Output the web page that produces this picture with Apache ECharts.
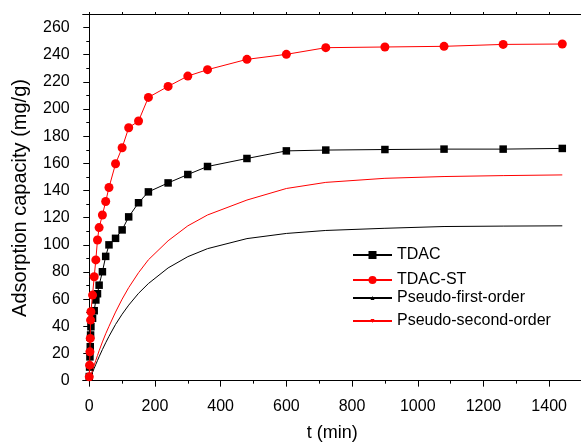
<!DOCTYPE html>
<html>
<head>
<meta charset="utf-8">
<script src="https://cdn.jsdelivr.net/npm/echarts@6/dist/echarts.min.js"></script>
<style>html,body{margin:0;padding:0;background:#fff}#c{width:581px;height:442px}</style>
</head>
<body>
<div id="c"></div>
<script>
const times = [0,1,2,3,4,5,10,15,20,25,30,40,50,60,80,100,120,150,180,240,300,360,480,600,720,900,1080,1260,1440];
const tdac = [3,10,17.5,25,33.6,39.7,45.9,51.5,59.4,64,70.3,80.2,91.5,100,104.8,111,120.6,131,139,145.6,151.8,157.7,163.6,169.2,169.8,170.2,170.5,170.5,171];
const tdacST = [2.8,11.4,21.2,31.1,44.6,50.7,63,76.5,88.9,103.6,112.7,122,131.9,142.2,159.7,171.5,186.2,191.2,208.6,216.7,224.3,229,236.6,240.3,245.2,245.7,246.2,247.6,247.9];
const pfo = [0,0.6,1.2,1.9,2.5,3.1,6.1,9.1,12,14.8,17.6,22.9,27.9,32.6,41.4,48.9,55.6,64.3,71.5,83,91.3,97.2,104.6,108.4,110.6,112.2,113.5,113.8,114];
const pso = [0,0.8,1.6,2.4,3.2,4,7.8,11.5,15,18.5,22,28.5,34.5,40,50.5,60,68.5,79.5,89,103,114,122,133,141.5,146,149,150.3,151,151.5];
const xMajor = [0,200,400,600,800,1000,1200,1400];
const xMinor = [100,300,500,700,900,1100,1300,1500];
const yMajor = [0,20,40,60,80,100,120,140,160,180,200,220,240,260];
const yMinor = [10,30,50,70,90,110,130,150,170,190,210,230,250];
const seriesNames = ['TDAC','TDAC-ST','Pseudo-first-order','Pseudo-second-order'];

const pair = arr => times.map((t,i)=>[t,arr[i]]);
const font = 'Liberation Sans, Arial, sans-serif';
const chart = echarts.init(document.getElementById('c'), null, {renderer:'canvas'});
const lineAx = {show:true, lineStyle:{color:'#000', width:1}};
const legendText = {fontFamily:font, fontSize:16, color:'#000'};
chart.setOption({
  animation:false,
  backgroundColor:'#fff',
  grid:{left:82.7, top:14, right:-1, bottom:60, containLabel:false, outerBoundsMode:'none'},
  legend:[
    {orient:'vertical', left:352, top:247, itemWidth:39, itemHeight:10, itemGap:9, padding:0,
     textStyle:legendText, data:seriesNames.slice(0,2)},
    {orient:'vertical', left:352, top:290, itemWidth:39, itemHeight:5, itemGap:7, padding:0,
     textStyle:legendText, data:seriesNames.slice(2,4)}
  ],
  xAxis:[
    {type:'value', min:-20, max:1500, position:'bottom',
     axisLine:lineAx, splitLine:{show:false},
     axisTick:{show:true, inside:false, length:6, customValues:xMajor, lineStyle:{color:'#000'}},
     axisLabel:{customValues:xMajor, margin:17, fontFamily:font, fontSize:16, color:'#000', formatter:v=>String(v)},
     name:'t (min)', nameLocation:'middle', nameGap:42, nameTextStyle:{fontFamily:font, fontSize:18, color:'#000'}},
    {type:'value', min:-20, max:1500, position:'bottom',
     axisLine:{show:false}, splitLine:{show:false},
     axisTick:{show:true, length:3, customValues:xMinor, lineStyle:{color:'#000'}},
     axisLabel:{show:false}},
    {type:'value', min:-20, max:1500, position:'top',
     axisLine:lineAx, splitLine:{show:false},
     axisTick:{show:true, length:2, customValues:xMajor.concat(xMinor), lineStyle:{color:'#000'}},
     axisLabel:{show:false}}
  ],
  yAxis:[
    {type:'value', min:-1, max:270, position:'left',
     axisLine:lineAx, splitLine:{show:false},
     axisTick:{show:true, length:6, customValues:yMajor, lineStyle:{color:'#000'}},
     axisLabel:{customValues:yMajor, margin:13, fontFamily:font, fontSize:16, color:'#000', formatter:v=>String(v)},
     name:'Adsorption capacity (mg/g)', nameLocation:'middle', nameGap:52,
     nameTextStyle:{fontFamily:font, fontSize:20, color:'#000'}},
    {type:'value', min:-1, max:270, position:'left',
     axisLine:{show:false}, splitLine:{show:false},
     axisTick:{show:true, length:3, customValues:yMinor, lineStyle:{color:'#000'}},
     axisLabel:{show:false}}
  ],
  series:[
    {name:seriesNames[0], type:'line', data:pair(tdac), symbol:'rect', symbolSize:7.5,
     lineStyle:{color:'#000', width:1}, itemStyle:{color:'#000'}, z:3},
    {name:seriesNames[1], type:'line', data:pair(tdacST), symbol:'circle', symbolSize:9,
     lineStyle:{color:'#ff0000', width:1}, itemStyle:{color:'#ff0000'}, z:4},
    {name:seriesNames[2], type:'line', data:pair(pfo), symbol:'triangle', showSymbol:false,
     lineStyle:{color:'#000', width:1}, itemStyle:{color:'#000'}, z:2},
    {name:seriesNames[3], type:'line', data:pair(pso), symbol:'triangle', symbolRotate:180, showSymbol:false,
     lineStyle:{color:'#ff0000', width:1}, itemStyle:{color:'#ff0000'}, z:2}
  ]
});
</script>
</body>
</html>
